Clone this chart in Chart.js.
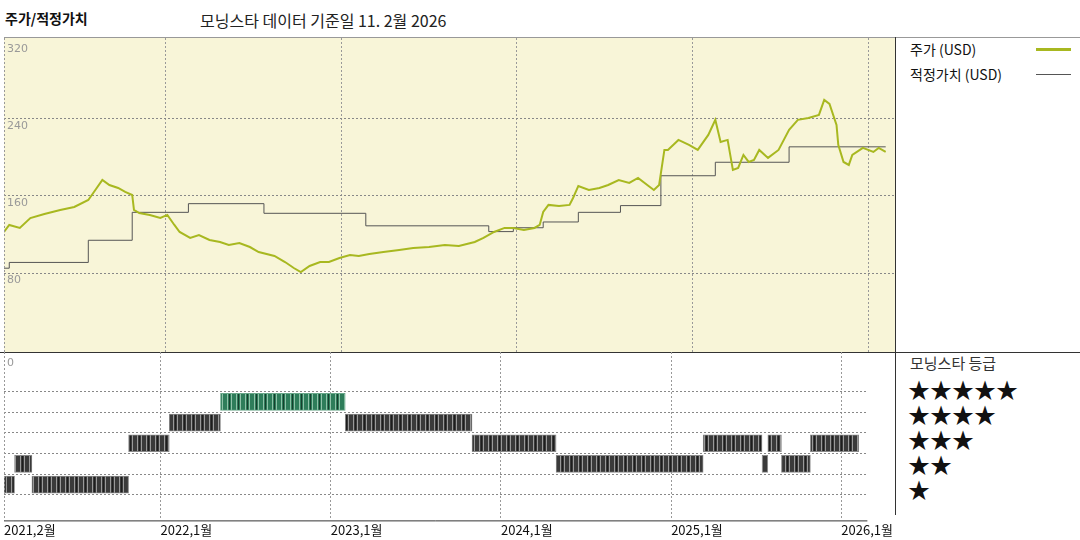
<!DOCTYPE html>
<html><head><meta charset="utf-8">
<script src="https://cdn.jsdelivr.net/npm/chart.js@4/dist/chart.umd.min.js"></script>
<style>
body{margin:0;background:#fff;font-family:"Noto Sans CJK KR","Noto Sans",sans-serif;}
#wrap{position:relative;width:1080px;height:540px;overflow:hidden}
.t{position:absolute;white-space:nowrap;color:#111}
</style></head><body>
<div id="wrap">
<div class="t" style="left:5px;top:8px;font-size:14px;font-weight:bold">주가/적정가치</div>
<div class="t" style="left:200px;top:8px;font-size:16px;color:#222">모닝스타 데이터 기준일 11. 2월 2026</div>
<div style="position:absolute;left:4px;top:37px;width:1076px;height:1px;background:#999"></div>
<div style="position:absolute;left:0;top:352px;width:1080px;height:1px;background:#333"></div>
<div style="position:absolute;left:895px;top:37px;width:1px;height:478px;background:#333"></div>
<div class="t" style="left:910px;top:39px;font-size:14px">주가 (USD)</div>
<div style="position:absolute;left:1036px;top:48px;width:35px;height:3px;background:#a8b820"></div>
<div class="t" style="left:910px;top:64px;font-size:14px">적정가치 (USD)</div>
<div style="position:absolute;left:1036px;top:74px;width:35px;height:1px;background:#555"></div>
<div class="t" style="left:910px;top:352px;font-size:15px;color:#333">모닝스타 등급</div>
<div class="t" style="left:908px;top:372px;font-size:22px">★★★★★</div>
<div class="t" style="left:908px;top:397px;font-size:22px">★★★★</div>
<div class="t" style="left:908px;top:422px;font-size:22px">★★★</div>
<div class="t" style="left:908px;top:447px;font-size:22px">★★</div>
<div class="t" style="left:908px;top:472px;font-size:22px">★</div>
<canvas id="c1" width="895" height="314" style="position:absolute;left:0;top:38px;width:895px;height:314px"></canvas>
<canvas id="c2" width="895" height="188" style="position:absolute;left:0;top:352px;width:895px;height:188px"></canvas>
</div>
<script>
const priceDates=[2021.08,2021.11,2021.17,2021.23,2021.31,2021.40,2021.48,2021.56,2021.60,2021.64,2021.68,2021.73,2021.77,2021.81,2021.82,2021.85,2021.91,2021.97,2022.01,2022.05,2022.08,2022.14,2022.19,2022.25,2022.31,2022.36,2022.42,2022.48,2022.53,2022.62,2022.68,2022.73,2022.77,2022.82,2022.88,2022.93,2022.99,2023.05,2023.10,2023.16,2023.24,2023.33,2023.41,2023.50,2023.59,2023.67,2023.76,2023.81,2023.87,2023.93,2023.98,2024.04,2024.10,2024.13,2024.15,2024.18,2024.24,2024.30,2024.32,2024.35,2024.41,2024.47,2024.52,2024.58,2024.64,2024.69,2024.75,2024.78,2024.81,2024.84,2024.86,2024.92,2024.98,2025.03,2025.09,2025.13,2025.16,2025.20,2025.23,2025.26,2025.29,2025.32,2025.35,2025.38,2025.43,2025.49,2025.55,2025.60,2025.66,2025.72,2025.75,2025.78,2025.82,2025.83,2025.86,2025.89,2025.91,2025.97,2026.03,2026.06,2026.10];
const priceValues=[122.6,129.9,126.8,137.1,141.3,145.5,148.6,155.8,166.2,176.6,171.4,168.3,164.2,161.0,145.5,142.3,140.3,137.1,140.3,129.9,122.6,116.4,119.5,114.3,112.2,109.1,111.2,107.0,101.8,97.7,91.4,85.2,81.0,87.3,91.4,91.4,95.6,98.7,97.7,99.7,101.8,103.9,106.0,107.0,109.1,108.0,112.2,116.4,122.6,126.8,126.8,124.7,126.8,129.9,143.4,150.7,149.6,150.7,157.9,170.4,166.2,168.3,171.4,176.6,173.5,178.7,170.4,166.2,171.4,207.8,207.8,218.2,213.0,207.8,223.4,239.0,216.1,218.2,187.0,189.1,202.6,195.3,197.4,207.8,199.5,207.8,228.6,239.0,241.0,244.2,259.7,255.6,233.8,213.0,195.3,192.2,202.6,209.9,205.7,209.9,205.7];
const fairDates=[2021.08,2021.11,2021.56,2021.81,2022.13,2022.56,2023.14,2023.84,2023.98,2024.15,2024.35,2024.59,2024.82,2025.13,2025.55,2026.10];
const fairValues=[85,91,114,143,152,142,129,123,127,133,143,150,181,195,211,211];
const yTicks=[80,160,240,320];
const ratingStart=[2021.08,2021.142,2021.244,2021.812,2022.051,2022.352,2023.085,2023.830,2024.324,2025.188,2025.534,2025.568,2025.648,2025.818];
const ratingEnd=[2021.142,2021.244,2021.812,2022.051,2022.352,2023.085,2023.830,2024.324,2025.188,2025.534,2025.568,2025.648,2025.818,2026.102];
const ratingStars=[1,2,1,3,4,5,4,3,2,3,2,3,2,3];
const xTickVals=[2021.08,2022,2023,2024,2025,2026];
const xTickLabels=['2021,2월','2022,1월','2023,1월','2024,1월','2025,1월','2026,1월'];
const XMIN=2021.08, XMAX=2026.153;

function stripes(base,light){
  const p=document.createElement('canvas');p.width=9;p.height=4;const g=p.getContext('2d');
  g.fillStyle=base;g.fillRect(0,0,9,4);g.fillStyle=light;g.fillRect(2,0,1,4);g.fillRect(6,0,1,4);
  g.fillStyle='rgba(0,0,0,0.5)';g.fillRect(4,0,1,4);
  return g.createPattern(p,'repeat');
}
const xGridColor=c=>(c.tick&&c.tick.value>2021.5)?'#999':'rgba(0,0,0,0)';

const bgPlug={id:'bg',beforeDraw(ch){const a=ch.chartArea,x=ch.ctx;x.save();x.fillStyle='#f8f5d8';x.fillRect(a.left,a.top,a.right-a.left,a.bottom-a.top);x.restore();},
 afterDraw(ch){const a=ch.chartArea,x=ch.ctx,ys=ch.scales.y;x.save();x.fillStyle='#999';x.font='11px "DejaVu Sans"';x.textBaseline='top';
  yTicks.forEach(v=>x.fillText(String(v),a.left+3,Math.max(ys.getPixelForValue(v)+2,a.top+3)));
  x.strokeStyle='#999';x.setLineDash([2,2]);x.beginPath();x.moveTo(a.left+0.5,a.top);x.lineTo(a.left+0.5,a.bottom);x.stroke();x.restore();}};

new Chart(document.getElementById('c1'),{type:'line',
 data:{datasets:[
  {data:priceDates.map((d,i)=>({x:d,y:priceValues[i]})),borderColor:'#a8b820',borderWidth:2,pointRadius:0,tension:0},
  {data:fairDates.map((d,i)=>({x:d,y:fairValues[i]})),borderColor:'#555',borderWidth:1,pointRadius:0,stepped:true}]},
 options:{responsive:false,maintainAspectRatio:false,animation:false,devicePixelRatio:1,layout:{padding:{left:4,top:0,right:0,bottom:0}},
  plugins:{legend:{display:false},tooltip:{enabled:false}},
  scales:{x:{type:'linear',min:XMIN,max:XMAX,afterBuildTicks:s=>{s.ticks=xTickVals.map(v=>({value:v}))},ticks:{display:false},border:{display:false,dash:[2,2]},grid:{color:xGridColor,drawTicks:false}},
   y:{min:-2,max:324,afterBuildTicks:s=>{s.ticks=[80,160,240].map(v=>({value:v}))},ticks:{display:false},border:{display:false,dash:[2,2]},grid:{color:'#888',drawTicks:false}}}},
 plugins:[bgPlug]});

const zeroPlug={id:'z',afterDraw(ch){const a=ch.chartArea,x=ch.ctx;x.save();x.fillStyle='#999';x.font='11px "DejaVu Sans"';x.textBaseline='top';x.fillText('0',a.left+3,a.top+6);
 x.strokeStyle='#999';x.setLineDash([2,2]);x.beginPath();x.moveTo(a.left+0.5,a.top);x.lineTo(a.left+0.5,a.bottom);x.stroke();
 x.setLineDash([]);x.strokeStyle='#333';x.beginPath();x.moveTo(a.left,a.bottom+0.5);x.lineTo(a.right,a.bottom+0.5);x.stroke();x.restore();}};
const darkP=stripes('#3a3a3a','#9a9a9a'), greenP=stripes('#2e7d5a','#8fc2a8');
new Chart(document.getElementById('c2'),{type:'bar',
 data:{datasets:[{data:ratingStart.map((s,i)=>({x:[s,ratingEnd[i]],y:ratingStars[i]})),
  backgroundColor:ratingStars.map(r=>r===5?greenP:darkP),borderColor:ratingStars.map(r=>r===5?'#6aa88a':'#888'),borderWidth:1,barThickness:17,borderSkipped:false}]},
 options:{indexAxis:'y',responsive:false,maintainAspectRatio:false,animation:false,devicePixelRatio:1,layout:{padding:{left:4,right:0,top:0,bottom:0}},
  plugins:{legend:{display:false},tooltip:{enabled:false}},
  scales:{x:{type:'linear',min:XMIN,max:XMAX,afterBuildTicks:s=>{s.ticks=xTickVals.map(v=>({value:v}))},
    ticks:{autoSkip:false,maxRotation:0,align:'start',padding:2,color:'#111',font:{size:13,family:'"Noto Sans CJK KR"'},callback:(v,i)=>xTickLabels[i]},
    border:{display:false,dash:[2,2]},grid:{color:xGridColor,drawTicks:false}},
   y:{type:'linear',min:0.08,max:6.6,afterBuildTicks:s=>{s.ticks=[1,2,3,4,5].map(v=>({value:v}))},ticks:{display:false},border:{display:false,dash:[2,2]},grid:{color:'#888',drawTicks:false}}}},
 plugins:[zeroPlug]});
</script>
</body></html>
